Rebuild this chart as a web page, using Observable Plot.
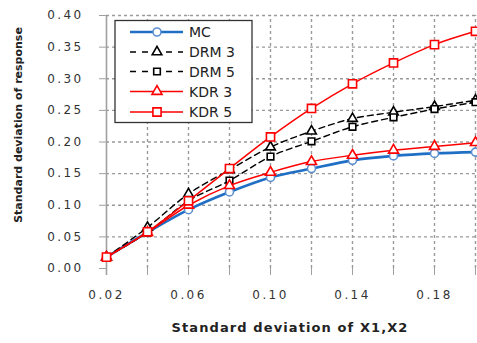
<!DOCTYPE html>
<html>
<head>
<meta charset="utf-8">
<script src="https://cdn.jsdelivr.net/npm/d3@7"></script>
<script src="https://cdn.jsdelivr.net/npm/@observablehq/plot@0.6"></script>
<style>
  html, body { margin: 0; padding: 0; background: #fff; }
  #chart svg { display: block; }
  #chart svg text { font-family: "DejaVu Sans", sans-serif; }
  .ticklbl text { letter-spacing: 2.4px; }
  .xtitle text { letter-spacing: 1.1px; }
</style>
</head>
<body>
<div id="chart"></div>
<script>
// ---- data ----
const xs     = [0.02, 0.04, 0.06, 0.08, 0.10, 0.12, 0.14, 0.16, 0.18, 0.20];
const xLabelTicks = [0.02, 0.06, 0.10, 0.14, 0.18];
const yTicks = [0.00, 0.05, 0.10, 0.15, 0.20, 0.25, 0.30, 0.35, 0.40];
const mc   = [0.018, 0.057, 0.093, 0.121, 0.144, 0.158, 0.171, 0.178, 0.182, 0.184];
const drm3 = [0.018, 0.065, 0.118, 0.156, 0.192, 0.217, 0.237, 0.247, 0.256, 0.266];
const drm5 = [0.018, 0.057, 0.107, 0.139, 0.177, 0.201, 0.224, 0.239, 0.252, 0.263];
const kdr3 = [0.018, 0.057, 0.100, 0.131, 0.152, 0.169, 0.179, 0.187, 0.193, 0.199];
const kdr5 = [0.018, 0.058, 0.107, 0.158, 0.208, 0.253, 0.292, 0.325, 0.354, 0.375];
const seriesNames = ["MC", "DRM 3", "DRM 5", "KDR 3", "KDR 5"];
const xTitle = "Standard deviation of X1,X2";
const yTitle = "Standard deviation of response";

// ---- styles per series ----
const styles = {
  "MC":    {stroke: "#1f6fc5", width: 2.6, dash: null,  symbol: "circle",    r: 4,   mstroke: "#5b8fd0"},
  "DRM 3": {stroke: "#000000", width: 1.4, dash: "6,4", symbol: "triangle2", r: 4.6, mstroke: "#000"},
  "DRM 5": {stroke: "#000000", width: 1.4, dash: "6,4", symbol: "square2",   r: 4.2, mstroke: "#000"},
  "KDR 3": {stroke: "#ff0000", width: 1.5, dash: null,  symbol: "triangle2", r: 4.8, mstroke: "#ff0000"},
  "KDR 5": {stroke: "#ff0000", width: 1.5, dash: null,  symbol: "square2",   r: 5.2, mstroke: "#ff0000"}
};
const values = {"MC": mc, "DRM 3": drm3, "DRM 5": drm5, "KDR 3": kdr3, "KDR 5": kdr5};
const tidy = seriesNames.map(s => xs.map((x, i) => ({series: s, x, y: values[s][i]})));

const lineMarks = [];
for (const [k, s] of seriesNames.entries()) {
  const st = styles[s];
  lineMarks.push(Plot.line(tidy[k], {x: "x", y: "y", stroke: st.stroke, strokeWidth: st.width,
    strokeDasharray: st.dash, curve: "catmull-rom"}));
  lineMarks.push(Plot.dot(tidy[k], {x: "x", y: "y", symbol: () => st.symbol, r: st.r,
    stroke: st.mstroke, fill: "white", strokeWidth: 1.6}));
}

const chart = Plot.plot({
  width: 477, height: 343,
  marginLeft: 106, marginRight: 2, marginTop: 15, marginBottom: 75,
  style: {fontFamily: "DejaVu Sans", fontSize: "12px", color: "#333", background: "white"},
  x: {domain: [0.02, 0.20], label: null},
  y: {domain: [0, 0.40], label: null},
  symbol: {type: "identity"},
  marks: [
    // gridlines
    Plot.ruleX(xs.slice(1), {y1: 0, y2: 0.40, stroke: "#9a9a9a", strokeWidth: 1.4, strokeDasharray: "3,3"}),
    Plot.ruleY(yTicks.slice(1), {x1: 0.02, x2: 0.20, stroke: "#9a9a9a", strokeWidth: 1.4, strokeDasharray: "3,3"}),
    // y axis line
    Plot.ruleX([0.02], {y1: -0.011, y2: 0.40, stroke: "#a0a0a0", strokeWidth: 1.6}),
    // axes
    Plot.axisX({ticks: xs, tickSize: 7, tickPadding: 15, stroke: "#a0a0a0", fill: "#333", label: null,
      tickFormat: d => xLabelTicks.some(t => Math.abs(t - d) < 1e-9) ? d3.format(".2f")(d) : "",
      className: "ticklbl", fontSize: 12}),
    Plot.axisY({ticks: yTicks, tickSize: 7, tickPadding: 16, stroke: "#a0a0a0", fill: "#333",
      tickFormat: d3.format(".2f"), className: "ticklbl", fontSize: 12, label: null}),
    // titles
    Plot.text([xTitle], {frameAnchor: "bottom", dy: 63, dx: -1, fontWeight: "bold", fontSize: 13,
      fill: "#222", className: "xtitle"}),
    Plot.text([yTitle], {frameAnchor: "left", textAnchor: "middle", dx: -88, dy: -17, rotate: -90,
      fontWeight: "bold", fontSize: 11, fill: "#222"}),
    ...lineMarks
  ]
});
document.getElementById("chart").appendChild(chart);

// ---- legend (inside plot area) ----
const svg = d3.select(chart);
const lg = svg.append("g").attr("class", "legend");
lg.append("rect").attr("x", 115).attr("y", 20.5).attr("width", 137).attr("height", 102)
  .attr("fill", "white").attr("stroke", "#333").attr("stroke-width", 1.3);
const rowY = [32, 52, 71.5, 91.5, 112];
const symMap = {circle: d3.symbolCircle, triangle2: d3.symbolTriangle2, square2: d3.symbolSquare2};
seriesNames.forEach((s, i) => {
  const st = styles[s];
  const y = rowY[i];
  lg.append("line").attr("x1", 130).attr("x2", 183).attr("y1", y).attr("y2", y)
    .attr("stroke", st.stroke).attr("stroke-width", st.width)
    .attr("stroke-dasharray", st.dash ? "6,6" : null);
  lg.append("path").attr("transform", `translate(157,${y})`)
    .attr("d", d3.symbol(symMap[st.symbol], Math.PI * st.r * st.r)())
    .attr("fill", "white").attr("stroke", st.mstroke).attr("stroke-width", 1.6);
  lg.append("text").attr("x", 189).attr("y", y).attr("dy", "0.36em")
    .attr("text-anchor", "start")
    .attr("font-size", 14).attr("fill", "#222").text(s);
});
</script>
</body>
</html>
